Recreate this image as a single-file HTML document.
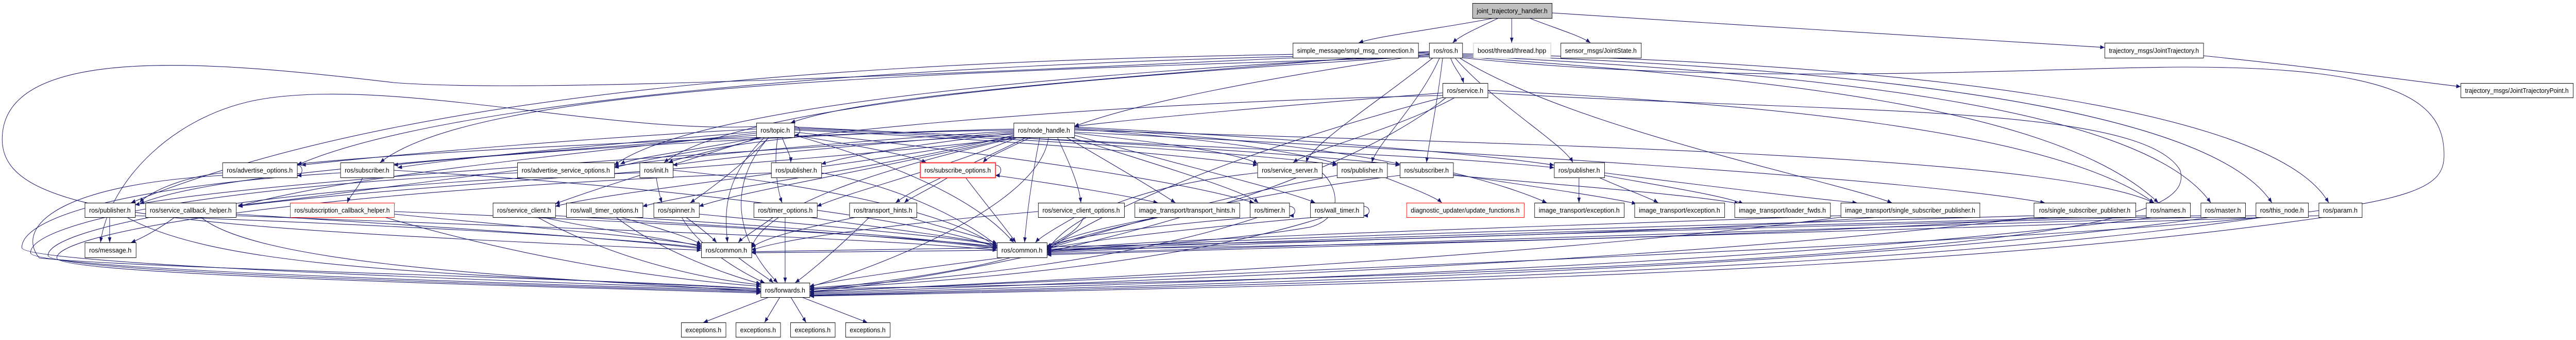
<!DOCTYPE html>
<html><head><meta charset="utf-8"><style>
html,body{margin:0;padding:0;background:#fff;width:100%;height:100%;overflow:hidden}
svg{display:block;width:100vw;height:100vh}
.e path{fill:none;stroke:#191970;stroke-width:1.1}
.n rect{fill:#fff;stroke:#000;stroke-width:1}
.n text{font-family:"Liberation Sans",sans-serif;font-size:13px;fill:#000}
</style></head><body>
<svg viewBox="0 0 5896 659" preserveAspectRatio="none" xmlns="http://www.w3.org/2000/svg">
<defs><marker id="a" markerWidth="10" markerHeight="8" refX="10" refY="4" orient="auto" markerUnits="userSpaceOnUse"><path d="M0,0L10,4L0,8z" fill="#191970"/></marker></defs>
<g class="e" marker-end="url(#a)">
<path d="M3420 35 C3300 55 3150 70 3110 83"/>
<path d="M3430 35 C3380 55 3340 70 3325 83"/>
<path d="M3460 35 L3460 83"/>
<path d="M3500 35 C3560 55 3620 70 3640 83"/>
<path d="M3552 25 C4000 50 4600 80 4817 92"/>
<path d="M5043 108 C5300 130 5500 155 5632 168"/>
<path d="M3320 112 C3330 135 3345 145 3350 161"/>
<path d="M3271 105 C2900 150 2600 200 2459 245"/>
<path d="M3271 100 C2600 150 2000 180 1810 238"/>
<path d="M3295 112 C3250 200 3150 280 3140 315"/>
<path d="M3302 112 C3290 200 3270 280 3265 315"/>
<path d="M3330 112 C3420 200 3580 280 3600 315"/>
<path d="M3340 112 C3600 250 4200 350 4330 393"/>
<path d="M3347 110 C4000 150 4700 200 4940 393"/>
<path d="M3347 108 C4100 140 4900 200 5060 393"/>
<path d="M3347 106 C4200 130 5050 200 5200 393"/>
<path d="M3347 104 C4300 120 5200 200 5330 393"/>
<path d="M3280 112 C3150 200 3000 280 2990 315"/>
<path d="M3271 108 C2500 150 1700 200 1520 315"/>
<path d="M3271 104 C2000 120 1000 200 680 320"/>
<path d="M3271 110 C2200 140 1100 160 870 315"/>
<path d="M3271 102 C2200 110 1000 150 300 393"/>
<path d="M3271 106 C2500 140 1600 200 1406 320"/>
<path d="M3271 100 C2000 150 1200 180 900 160 C500 120 5 80 5 270 C5 420 400 440 1605 485"/>
<path d="M1731 245 C1400 260 900 150 600 192 C400 220 250 350 230 470"/>
<path d="M3302 180 C3000 200 2600 230 2459 245"/>
<path d="M3330 189 C3200 250 3000 290 2960 315"/>
<path d="M3302 185 C2500 200 1700 260 1406 325"/>
<path d="M3302 189 C2800 300 2500 420 2396 485"/>
<path d="M3310 189 C3000 400 2200 540 1853 565"/>
<path d="M3405 175 C4000 200 4700 250 4930 393"/>
<path d="M3405 180 C4200 220 4900 200 4990 330 C5020 420 4800 520 1853 560"/>
<path d="M3347 112 C4000 170 4700 130 5000 130 C5500 130 5594 200 5594 300 C5594 420 5400 440 1853 565"/>
<path d="M1818 245 C1835 245 1835 262 1818 262"/>
<path d="M1731 250 C1300 270 900 300 690 320"/>
<path d="M1731 255 C1400 280 1100 300 910 325"/>
<path d="M1740 266 C1600 290 1450 305 1420 318"/>
<path d="M1745 266 C1650 290 1560 305 1530 315"/>
<path d="M1790 266 C1800 290 1810 300 1810 315"/>
<path d="M1818 262 C1950 280 2080 300 2120 315"/>
<path d="M1760 266 C1700 320 1620 370 1580 393"/>
<path d="M1780 266 C1770 320 1780 370 1790 393"/>
<path d="M1731 262 C1200 300 500 330 320 395"/>
<path d="M1750 266 C1650 350 1660 420 1665 470"/>
<path d="M1818 262 C2100 330 2250 400 2320 470"/>
<path d="M1760 266 C1650 370 1700 480 1780 548"/>
<path d="M1818 256 C2300 300 2700 350 2870 393"/>
<path d="M1818 252 C2300 270 2700 300 2878 320"/>
<path d="M1740 266 C1500 330 1350 370 1271 395"/>
<path d="M1731 258 C1300 300 800 340 545 400"/>
<path d="M1818 250 C2400 270 2900 300 3060 320"/>
<path d="M1818 248 C2500 270 3000 300 3204 320"/>
<path d="M1818 246 C2600 280 3300 300 3557 325"/>
<path d="M2360 266 C2300 290 2260 305 2250 315"/>
<path d="M2320 258 C2100 280 1950 300 1880 318"/>
<path d="M2320 256 C2000 280 1700 300 1540 320"/>
<path d="M2320 254 C2000 270 1600 300 1406 322"/>
<path d="M2320 252 C1800 260 1000 290 680 318"/>
<path d="M2320 250 C1800 260 1100 300 901 320"/>
<path d="M2320 260 C1600 300 600 350 309 397"/>
<path d="M2459 258 C2700 280 2850 300 2878 318"/>
<path d="M2420 266 C2450 320 2470 360 2474 393"/>
<path d="M2440 266 C2550 320 2650 370 2690 393"/>
<path d="M2450 266 C2650 320 2850 370 2880 393"/>
<path d="M2459 262 C2700 320 2950 370 3010 393"/>
<path d="M2330 266 C2150 330 1950 370 1870 400"/>
<path d="M2350 266 C2200 330 2100 360 2050 393"/>
<path d="M2320 266 C2000 330 1700 370 1600 400"/>
<path d="M2320 264 C1900 330 1400 370 1271 400"/>
<path d="M2320 262 C2000 330 1600 370 1471 400"/>
<path d="M2330 266 C2000 330 1750 400 1720 480"/>
<path d="M2380 266 C2360 350 2350 420 2345 470"/>
<path d="M2400 266 C2380 400 2000 520 1853 556"/>
<path d="M2459 256 C3500 300 4400 350 4680 393"/>
<path d="M2459 252 C3500 280 4700 300 4930 393"/>
<path d="M2459 250 C2800 270 3000 300 3060 318"/>
<path d="M2459 248 C2900 270 3100 300 3204 318"/>
<path d="M2459 246 C3000 270 3400 300 3557 320"/>
<path d="M2320 268 C1800 320 900 360 545 400"/>
<path d="M680 320 C695 320 695 340 680 340"/>
<path d="M509 335 C400 345 330 380 320 393"/>
<path d="M509 340 C100 360 40 450 90 500 C300 520 1400 540 1741 560"/>
<path d="M779 335 C300 360 50 420 50 480 C50 510 1000 540 1741 562"/>
<path d="M1184 335 C500 360 70 430 70 490 C70 520 1000 545 1741 564"/>
<path d="M1464 335 C600 360 110 440 110 495 C110 525 1000 548 1741 566"/>
<path d="M1765 335 C700 370 130 450 130 500 C130 530 1000 550 1741 568"/>
<path d="M830 344 C820 365 800 380 795 393"/>
<path d="M901 330 C1500 360 2100 420 2282 480"/>
<path d="M1184 330 C900 360 700 385 545 398"/>
<path d="M2170 344 C2120 370 2080 385 2070 393"/>
<path d="M2210 344 C2260 400 2300 440 2325 470"/>
<path d="M2278 320 C2295 320 2295 340 2278 340"/>
<path d="M2278 340 C2450 360 2580 380 2650 393"/>
<path d="M1502 344 C1505 360 1510 380 1515 393"/>
<path d="M1540 330 C1900 360 2200 420 2282 480"/>
<path d="M1880 335 C2050 360 2200 420 2282 476"/>
<path d="M2878 335 C2600 360 2450 420 2396 485"/>
<path d="M3170 344 C3250 370 3290 385 3300 393"/>
<path d="M3326 335 C3450 360 3520 385 3540 393"/>
<path d="M3326 338 C3500 360 3700 385 3745 395"/>
<path d="M3326 340 C3600 360 3900 380 3980 395"/>
<path d="M3614 344 L3614 393"/>
<path d="M3660 344 C3700 360 3780 385 3795 393"/>
<path d="M3672 340 C3800 360 3950 380 3990 395"/>
<path d="M3672 335 C3900 360 4150 385 4250 393"/>
<path d="M3026 335 C3060 360 3080 420 3000 440 C2800 470 2500 480 2396 488"/>
<path d="M3204 340 C3000 360 2600 420 2396 480"/>
<path d="M3060 340 C2800 380 2600 430 2396 482"/>
<path d="M251 421 L251 470"/>
<path d="M290 421 C500 520 1000 530 1741 560"/>
<path d="M309 418 C1000 440 1400 460 1605 480"/>
<path d="M400 421 C370 440 330 460 300 470"/>
<path d="M460 421 C600 520 1300 540 1741 565"/>
<path d="M540 415 C1000 440 1400 460 1605 482"/>
<path d="M540 418 C1200 440 2000 460 2282 485"/>
<path d="M902 410 C1500 430 2100 460 2282 478"/>
<path d="M880 421 C1200 500 1500 540 1741 555"/>
<path d="M902 415 C1200 440 1500 460 1605 476"/>
<path d="M1240 421 C1400 450 1550 465 1605 478"/>
<path d="M1230 421 C1400 500 1600 540 1741 552"/>
<path d="M1271 418 C1700 440 2100 460 2282 482"/>
<path d="M1420 421 C1500 440 1580 460 1605 474"/>
<path d="M1440 421 C1800 440 2100 460 2282 480"/>
<path d="M1410 421 C1500 480 1650 530 1741 550"/>
<path d="M1570 421 C1600 440 1630 460 1640 470"/>
<path d="M1560 421 C1600 480 1700 530 1750 548"/>
<path d="M1600 415 C1900 440 2200 460 2282 476"/>
<path d="M1770 421 C1740 440 1700 460 1690 470"/>
<path d="M1797 421 L1797 548"/>
<path d="M1850 421 C2000 440 2200 460 2282 475"/>
<path d="M1960 421 C1850 440 1750 460 1720 480"/>
<path d="M1990 421 C1920 480 1850 530 1820 548"/>
<path d="M2080 421 C2150 440 2250 460 2282 472"/>
<path d="M2460 421 C2420 440 2380 460 2370 470"/>
<path d="M2480 421 C2450 500 2100 540 1853 562"/>
<path d="M2376 410 C2100 430 1800 460 1720 485"/>
<path d="M2870 421 C2600 440 2450 460 2396 478"/>
<path d="M2951 400 C2968 400 2968 418 2951 418"/>
<path d="M2880 421 C2600 500 2200 540 1853 558"/>
<path d="M3010 421 C2700 445 2500 465 2396 482"/>
<path d="M3030 421 C2700 510 2200 545 1853 560"/>
<path d="M3121 400 C3138 400 3138 418 3121 418"/>
<path d="M2650 421 C2500 445 2420 465 2396 480"/>
<path d="M4213 418 C3500 440 2700 460 2396 484"/>
<path d="M4213 421 C3500 500 2500 540 1853 566"/>
<path d="M4656 418 C3800 440 2800 460 2396 486"/>
<path d="M4656 421 C3800 510 2600 545 1853 568"/>
<path d="M4912 418 C4000 440 2900 462 2396 488"/>
<path d="M4930 421 C4000 520 2700 548 1853 570"/>
<path d="M5037 418 C4100 440 3000 464 2396 490"/>
<path d="M5060 421 C4200 525 2800 550 1853 572"/>
<path d="M5163 418 C4200 445 3100 466 2396 492"/>
<path d="M5180 421 C4300 530 2900 552 1853 573"/>
<path d="M5307 418 C4300 450 3200 468 2396 494"/>
<path d="M5320 421 C4400 535 3000 554 1853 574"/>
<path d="M4300 421 C3500 470 2200 480 1720 488"/>
<path d="M4700 421 C3800 475 2300 485 1720 490"/>
<path d="M1690 499 C1720 520 1760 540 1770 548"/>
<path d="M2300 499 C2100 520 1900 545 1853 555"/>
<path d="M1760 576 L1610 625"/>
<path d="M1785 576 L1750 625"/>
<path d="M1810 576 L1845 625"/>
<path d="M1835 576 L1985 625"/>
</g>
<g class="n">
<rect x="3370.5" y="6.5" width="182" height="29" style="fill:#bfbfbf"/><text x="3380" y="25.5" textLength="162" lengthAdjust="spacingAndGlyphs">joint_trajectory_handler.h</text>
<rect x="2959.5" y="83.5" width="287" height="29"/><text x="2969" y="102.5" textLength="267" lengthAdjust="spacingAndGlyphs">simple_message/smpl_msg_connection.h</text>
<rect x="3271.5" y="83.5" width="76" height="29"/><text x="3281" y="102.5" textLength="56" lengthAdjust="spacingAndGlyphs">ros/ros.h</text>
<rect x="3372.5" y="83.5" width="177" height="29" style="stroke:#bfbfbf"/><text x="3382" y="102.5" textLength="157" lengthAdjust="spacingAndGlyphs">boost/thread/thread.hpp</text>
<rect x="3572.5" y="83.5" width="184" height="29"/><text x="3582" y="102.5" textLength="164" lengthAdjust="spacingAndGlyphs">sensor_msgs/JointState.h</text>
<rect x="4817.5" y="83.5" width="226" height="29"/><text x="4827" y="102.5" textLength="206" lengthAdjust="spacingAndGlyphs">trajectory_msgs/JointTrajectory.h</text>
<rect x="3302.5" y="161.5" width="103" height="28"/><text x="3312" y="180" textLength="83" lengthAdjust="spacingAndGlyphs">ros/service.h</text>
<rect x="5632.5" y="161.5" width="257" height="28"/><text x="5642" y="180" textLength="237" lengthAdjust="spacingAndGlyphs">trajectory_msgs/JointTrajectoryPoint.h</text>
<rect x="1731.5" y="238.5" width="87" height="28"/><text x="1741" y="257" textLength="67" lengthAdjust="spacingAndGlyphs">ros/topic.h</text>
<rect x="2320.5" y="238.5" width="139" height="28"/><text x="2330" y="257" textLength="119" lengthAdjust="spacingAndGlyphs">ros/node_handle.h</text>

<rect x="509.5" y="315.5" width="171" height="29"/><text x="519" y="334.5" textLength="151" lengthAdjust="spacingAndGlyphs">ros/advertise_options.h</text>
<rect x="779.5" y="315.5" width="122" height="29"/><text x="789" y="334.5" textLength="102" lengthAdjust="spacingAndGlyphs">ros/subscriber.h</text>
<rect x="1184.5" y="315.5" width="222" height="29"/><text x="1194" y="334.5" textLength="202" lengthAdjust="spacingAndGlyphs">ros/advertise_service_options.h</text>
<rect x="1464.5" y="315.5" width="76" height="29"/><text x="1474" y="334.5" textLength="56" lengthAdjust="spacingAndGlyphs">ros/init.h</text>
<rect x="1765.5" y="315.5" width="115" height="29"/><text x="1775" y="334.5" textLength="95" lengthAdjust="spacingAndGlyphs">ros/publisher.h</text>
<rect x="2106.5" y="315.5" width="172" height="29" style="stroke:#ff3030;stroke-width:2"/><text x="2116" y="334.5" textLength="152" lengthAdjust="spacingAndGlyphs">ros/subscribe_options.h</text>
<rect x="2878.5" y="315.5" width="148" height="29"/><text x="2888" y="334.5" textLength="128" lengthAdjust="spacingAndGlyphs">ros/service_server.h</text>
<rect x="3060.5" y="315.5" width="115" height="29"/><text x="3070" y="334.5" textLength="95" lengthAdjust="spacingAndGlyphs">ros/publisher.h</text>
<rect x="3204.5" y="315.5" width="122" height="29"/><text x="3214" y="334.5" textLength="102" lengthAdjust="spacingAndGlyphs">ros/subscriber.h</text>
<rect x="3557.5" y="315.5" width="115" height="29"/><text x="3567" y="334.5" textLength="95" lengthAdjust="spacingAndGlyphs">ros/publisher.h</text>

<rect x="194.5" y="393.5" width="115" height="28"/><text x="204" y="412" textLength="95" lengthAdjust="spacingAndGlyphs">ros/publisher.h</text>
<rect x="333.5" y="393.5" width="207" height="28"/><text x="343" y="412" textLength="187" lengthAdjust="spacingAndGlyphs">ros/service_callback_helper.h</text>
<rect x="664.5" y="393.5" width="238" height="28" style="stroke:#ff0000"/><text x="674" y="412" textLength="218" lengthAdjust="spacingAndGlyphs">ros/subscription_callback_helper.h</text>
<rect x="1128.5" y="393.5" width="143" height="28"/><text x="1138" y="412" textLength="123" lengthAdjust="spacingAndGlyphs">ros/service_client.h</text>
<rect x="1296.5" y="393.5" width="175" height="28"/><text x="1306" y="412" textLength="155" lengthAdjust="spacingAndGlyphs">ros/wall_timer_options.h</text>
<rect x="1496.5" y="393.5" width="104" height="28"/><text x="1506" y="412" textLength="84" lengthAdjust="spacingAndGlyphs">ros/spinner.h</text>
<rect x="1725.5" y="393.5" width="145" height="28"/><text x="1735" y="412" textLength="125" lengthAdjust="spacingAndGlyphs">ros/timer_options.h</text>
<rect x="1944.5" y="393.5" width="154" height="28"/><text x="1954" y="412" textLength="134" lengthAdjust="spacingAndGlyphs">ros/transport_hints.h</text>
<rect x="2376.5" y="393.5" width="197" height="28"/><text x="2386" y="412" textLength="177" lengthAdjust="spacingAndGlyphs">ros/service_client_options.h</text>
<rect x="2597.5" y="393.5" width="240" height="28"/><text x="2607" y="412" textLength="220" lengthAdjust="spacingAndGlyphs">image_transport/transport_hints.h</text>
<rect x="2861.5" y="393.5" width="90" height="28"/><text x="2871" y="412" textLength="70" lengthAdjust="spacingAndGlyphs">ros/timer.h</text>
<rect x="2999.5" y="393.5" width="122" height="28"/><text x="3009" y="412" textLength="102" lengthAdjust="spacingAndGlyphs">ros/wall_timer.h</text>
<rect x="3219.5" y="393.5" width="269" height="28" style="stroke:#ff0000"/><text x="3229" y="412" textLength="249" lengthAdjust="spacingAndGlyphs">diagnostic_updater/update_functions.h</text>
<rect x="3512.5" y="393.5" width="205" height="28"/><text x="3522" y="412" textLength="185" lengthAdjust="spacingAndGlyphs">image_transport/exception.h</text>
<rect x="3741.5" y="393.5" width="206" height="28"/><text x="3751" y="412" textLength="186" lengthAdjust="spacingAndGlyphs">image_transport/exception.h</text>
<rect x="3970.5" y="393.5" width="219" height="28"/><text x="3980" y="412" textLength="199" lengthAdjust="spacingAndGlyphs">image_transport/loader_fwds.h</text>
<rect x="4213.5" y="393.5" width="318" height="28"/><text x="4223" y="412" textLength="298" lengthAdjust="spacingAndGlyphs">image_transport/single_subscriber_publisher.h</text>
<rect x="4655.5" y="393.5" width="233" height="28"/><text x="4667" y="412" textLength="209" lengthAdjust="spacingAndGlyphs">ros/single_subscriber_publisher.h</text>
<rect x="4912.5" y="393.5" width="101" height="28"/><text x="4922" y="412" textLength="81" lengthAdjust="spacingAndGlyphs">ros/names.h</text>
<rect x="5037.5" y="393.5" width="102" height="28"/><text x="5047" y="412" textLength="82" lengthAdjust="spacingAndGlyphs">ros/master.h</text>
<rect x="5163.5" y="393.5" width="120" height="28"/><text x="5173" y="412" textLength="100" lengthAdjust="spacingAndGlyphs">ros/this_node.h</text>
<rect x="5307.5" y="393.5" width="99" height="28"/><text x="5317" y="412" textLength="79" lengthAdjust="spacingAndGlyphs">ros/param.h</text>

<rect x="194.5" y="470.5" width="117" height="29"/><text x="204" y="489.5" textLength="97" lengthAdjust="spacingAndGlyphs">ros/message.h</text>
<rect x="1605.5" y="470.5" width="115" height="29"/><text x="1615" y="489.5" textLength="95" lengthAdjust="spacingAndGlyphs">ros/common.h</text>
<rect x="2282.5" y="470.5" width="114" height="29"/><text x="2292" y="489.5" textLength="94" lengthAdjust="spacingAndGlyphs">ros/common.h</text>
<rect x="1741.5" y="548.5" width="112" height="28"/><text x="1751" y="567" textLength="92" lengthAdjust="spacingAndGlyphs">ros/forwards.h</text>
<rect x="1559.5" y="625.5" width="102" height="28"/><text x="1569" y="644" textLength="82" lengthAdjust="spacingAndGlyphs">exceptions.h</text>
<rect x="1684.5" y="625.5" width="102" height="28"/><text x="1694" y="644" textLength="82" lengthAdjust="spacingAndGlyphs">exceptions.h</text>
<rect x="1809.5" y="625.5" width="102" height="28"/><text x="1819" y="644" textLength="82" lengthAdjust="spacingAndGlyphs">exceptions.h</text>
<rect x="1935.5" y="625.5" width="102" height="28"/><text x="1945" y="644" textLength="82" lengthAdjust="spacingAndGlyphs">exceptions.h</text>
</g>
</svg>
</body></html>
